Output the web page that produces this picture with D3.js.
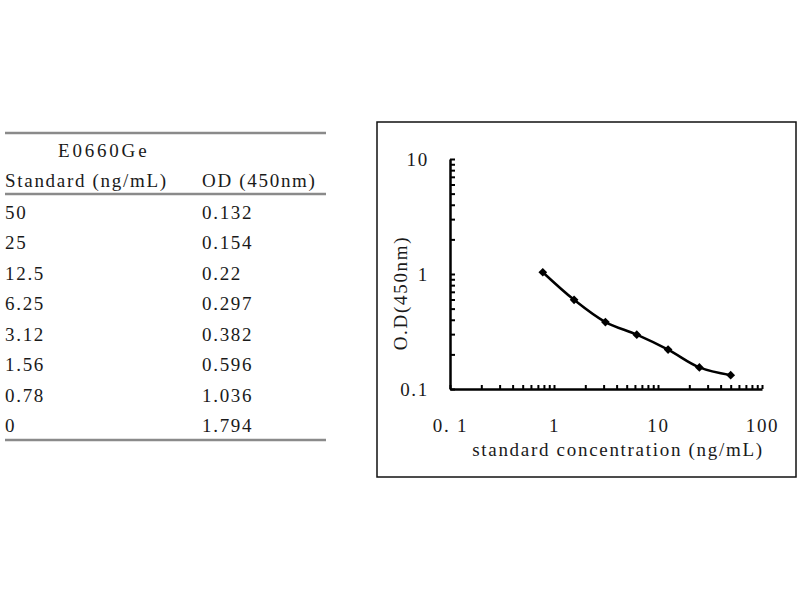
<!DOCTYPE html>
<meta charset="utf-8">
<html>
<head>
  <script src="https://d3js.org/d3.v7.min.js"></script>
  <style>
    body { margin: 0; background: #fff; }
    text { font-family: 'Liberation Serif', 'Times New Roman', serif; fill: #1a1a1a; letter-spacing: 1.7px; }
    .axis path, .axis line { stroke: #000; }
    .axis path { stroke-width: 2.5; }
    .axis line { stroke-width: 2; }
  </style>
</head>
<body>
<script>
  // Table data
  var kitName = "E0660Ge";
  var colHeads = ["Standard (ng/mL)", "OD (450nm)"];
  var standards = ["50", "25", "12.5", "6.25", "3.12", "1.56", "0.78", "0"];
  var odValues = ["0.132", "0.154", "0.22", "0.297", "0.382", "0.596", "1.036", "1.794"];

  // Chart data (zero standard can't sit on a log axis)
  var concs = [50, 25, 12.5, 6.25, 3.12, 1.56, 0.78];
  var ods = [0.132, 0.154, 0.22, 0.297, 0.382, 0.596, 1.036];
  var xTickLabels = {0.1: "0. 1", 1: "1", 10: "10", 100: "100"};
  var yTickLabels = {0.1: "0.1", 1: "1", 10: "10"};

  var svg = d3.select("body").append("svg")
    .attr("width", 800)
    .attr("height", 600);

  //Table
  var tbl = svg.append("g");
  var rowY = d3.scaleLinear().domain([0, 1]).range([212, 242.5]);
  var colX = [5, 202];

  [133, 194, 440].forEach(function (yy) {
    tbl.append("line")
      .attr("x1", 5).attr("x2", 326)
      .attr("y1", yy).attr("y2", yy)
      .attr("stroke", "#8a8a8a")
      .attr("stroke-width", 2.5);
  });

  tbl.append("text")
    .attr("x", 58).attr("y", 157)
    .style("font-size", "19px")
    .style("letter-spacing", "2.8px")
    .text(kitName);

  tbl.selectAll(".head")
    .data(colHeads)
    .enter().append("text")
    .attr("x", (d, i) => colX[i])
    .attr("y", 187)
    .style("font-size", "19px")
    .text(d => d);

  tbl.selectAll(".c1")
    .data(standards)
    .enter().append("text")
    .attr("x", colX[0])
    .attr("y", (d, i) => rowY(i))
    .attr("dy", "0.35em")
    .style("font-size", "19px")
    .text(d => d);

  tbl.selectAll(".c2")
    .data(odValues)
    .enter().append("text")
    .attr("x", colX[1])
    .attr("y", (d, i) => rowY(i))
    .attr("dy", "0.35em")
    .style("font-size", "19px")
    .text(d => d);

  //Chart frame
  svg.append("rect")
    .attr("x", 377).attr("y", 122)
    .attr("width", 419).attr("height", 355)
    .attr("fill", "none")
    .attr("stroke", "#111")
    .attr("stroke-width", 1.5);

  //Scales
  var x = d3.scaleLog().domain([0.1, 100]).range([450, 762]);
  var y = d3.scaleLog().domain([0.1, 10]).range([389, 159]);

  //X axis
  var xAxis = svg.append("g")
    .attr("class", "axis")
    .attr("transform", "translate(0," + y(0.1) + ")")
    .call(d3.axisBottom(x)
      .tickValues(x.ticks())
      .tickSizeInner(-4)
      .tickSizeOuter(0)
      .tickPadding(30)
      .tickFormat(d => xTickLabels[d] || ""));
  xAxis.selectAll("text")
    .style("font-size", "19px")
    .attr("fill", "#1a1a1a");

  //Y axis
  var yAxis = svg.append("g")
    .attr("class", "axis")
    .attr("transform", "translate(" + x(0.1) + ",0)")
    .call(d3.axisLeft(y)
      .tickValues(y.ticks())
      .tickSizeInner(-5)
      .tickSizeOuter(0)
      .tickPadding(21)
      .tickFormat(d => yTickLabels[d] || ""));
  yAxis.selectAll("text")
    .style("font-size", "19px")
    .attr("fill", "#1a1a1a");

  //Axis titles
  svg.append("text")
    .attr("x", 618).attr("y", 456)
    .attr("text-anchor", "middle")
    .style("font-size", "19px")
    .text("standard concentration (ng/mL)");

  svg.append("text")
    .attr("transform", "translate(407,293) rotate(-90)")
    .attr("text-anchor", "middle")
    .style("font-size", "19px")
    .text("O.D(450nm)");

  //Curve
  var pts = concs.map((c, i) => ({c: c, od: ods[i]}));
  svg.append("path")
    .datum(pts)
    .attr("fill", "none")
    .attr("stroke", "#000")
    .attr("stroke-width", 2.5)
    .attr("d", d3.line().x(d => x(d.c)).y(d => y(d.od)).curve(d3.curveCatmullRom));

  svg.selectAll(".pt")
    .data(pts)
    .enter().append("path")
    .attr("transform", d => "translate(" + x(d.c) + "," + y(d.od) + ") rotate(45)")
    .attr("d", d3.symbol().type(d3.symbolSquare).size(38))
    .attr("fill", "#000");
</script>
</body>
</html>
